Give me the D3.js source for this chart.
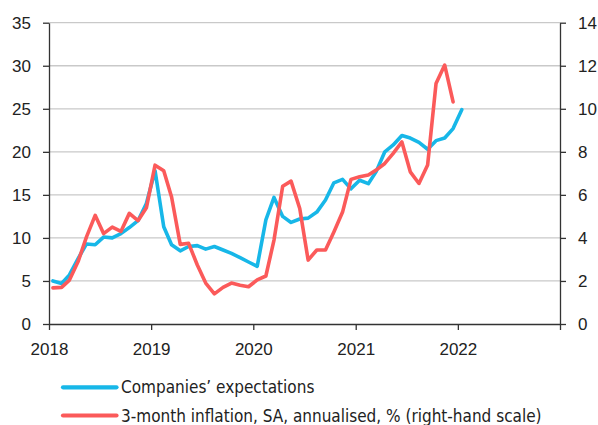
<!DOCTYPE html>
<html>
<head>
<meta charset="utf-8">
<script src="https://cdn.jsdelivr.net/npm/d3@7"></script>
<style>
  html, body { margin: 0; padding: 0; background: #fff; }
  svg { display: block; }
  text { font-family: "Liberation Sans", Arial, sans-serif; fill: #222; }
</style>
</head>
<body>
<svg id="chart" width="598" height="425"></svg>
<script>
// ---- Data (monthly, Jan 2018 onwards) ----
const startYear = 2018;
const startMonth = 0; // January
const companiesExpectations = [
  5.0, 4.7, 5.7, 7.6, 9.3, 9.2, 10.1, 10.0, 10.5, 11.2, 12.0, 14.0,
  17.8, 11.3, 9.2, 8.5, 9.0, 9.1, 8.7, 9.0, 8.6, 8.2, 7.7, 7.2,
  6.7, 12.1, 14.7, 12.5, 11.8, 12.2, 12.3, 13.0, 14.4, 16.4, 16.8, 15.7,
  16.7, 16.3, 17.7, 20.0, 20.8, 21.9, 21.6, 21.1, 20.3, 21.3, 21.6, 22.7,
  24.9
];
const inflation3m = [
  1.68, 1.7, 2.04, 2.9, 4.05, 5.05, 4.2, 4.5, 4.3, 5.14, 4.8, 5.4,
  7.38, 7.12, 5.9, 3.7, 3.75, 2.74, 1.9, 1.4, 1.7, 1.9, 1.8, 1.73,
  2.05, 2.23, 3.9, 6.4, 6.64, 5.37, 2.97, 3.44, 3.44, 4.28, 5.2, 6.72,
  6.84, 6.92, 7.15, 7.46, 7.93, 8.46, 7.07, 6.53, 7.39, 11.17, 12.03, 10.32
];
const xTickYears = [2018, 2019, 2020, 2021, 2022, 2023];
const xTickLabels = ["2018", "2019", "2020", "2021", "2022", ""];
const leftTicks = [0, 5, 10, 15, 20, 25, 30, 35];
const rightTicks = [0, 2, 4, 6, 8, 10, 12, 14];
const seriesNames = ["Companies\u2019 expectations", "3-month inflation, SA, annualised, % (right-hand scale)"];
const seriesColors = ["#17b7e8", "#fb5a5a"];

// ---- Layout ----
const svg = d3.select("#chart");
const pLeft = 49, pRight = 560, pTop = 22.7, pBottom = 324;

const x = d3.scaleTime()
  .domain([new Date(2018, 0, 1), new Date(2023, 0, 1)])
  .range([pLeft, pRight]);
const yL = d3.scaleLinear().domain([0, 35]).range([pBottom, pTop]);
const yR = d3.scaleLinear().domain([0, 14]).range([pBottom, pTop]);

const dateAt = i => new Date(startYear, startMonth + i, 15);

// gridlines
svg.append("g").selectAll("line")
  .data(leftTicks.filter(d => d > 0))
  .join("line")
  .attr("x1", pLeft).attr("x2", pRight)
  .attr("y1", d => yL(d)).attr("y2", d => yL(d))
  .attr("stroke", "#c9c9c9").attr("stroke-width", 1.3);

// axes
const axisColor = "#333";
const gL = svg.append("g").attr("transform", `translate(${pLeft},0)`)
  .call(d3.axisLeft(yL).tickValues(leftTicks).tickSize(6).tickPadding(12).tickSizeOuter(0));
const gR = svg.append("g").attr("transform", `translate(${pRight},0)`)
  .call(d3.axisRight(yR).tickValues(rightTicks).tickSize(6).tickPadding(12).tickSizeOuter(0));
const gX = svg.append("g").attr("transform", `translate(0,${pBottom})`)
  .call(d3.axisBottom(x).tickValues(xTickYears.map(y => new Date(y, 0, 1)))
    .tickFormat((d, i) => xTickLabels[i]).tickSize(6).tickPadding(10).tickSizeOuter(0));

[gL, gR, gX].forEach(g => {
  g.selectAll("path.domain").attr("stroke", axisColor).attr("stroke-width", 1.3);
  g.selectAll(".tick line").attr("stroke", axisColor).attr("stroke-width", 1.3);
  g.selectAll(".tick text").style("font-size", "17px").style("font-family", "'Liberation Sans', Arial, sans-serif").attr("fill", "#222");
});
gX.selectAll(".tick text").attr("dy", "0.9em");

// lines
const lineL = d3.line().x((d, i) => x(dateAt(i))).y(d => yL(d)).curve(d3.curveLinear);
const lineR = d3.line().x((d, i) => x(dateAt(i))).y(d => yR(d)).curve(d3.curveLinear);

svg.append("path").datum(companiesExpectations)
  .attr("d", lineL).attr("fill", "none")
  .attr("stroke", seriesColors[0]).attr("stroke-width", 3.6)
  .attr("stroke-linejoin", "round").attr("stroke-linecap", "round");
svg.append("path").datum(inflation3m)
  .attr("d", lineR).attr("fill", "none")
  .attr("stroke", seriesColors[1]).attr("stroke-width", 3.6)
  .attr("stroke-linejoin", "round").attr("stroke-linecap", "round");

// legend
const legend = svg.append("g");
const legY = [387.3, 415.5];
seriesNames.forEach((name, i) => {
  legend.append("line")
    .attr("x1", 63).attr("x2", 116.5)
    .attr("y1", legY[i]).attr("y2", legY[i])
    .attr("stroke", seriesColors[i]).attr("stroke-width", 4.2)
    .attr("stroke-linecap", "round");
  legend.append("text")
    .attr("x", 121).attr("y", legY[i] + 6)
    .style("font-size", "17px")
    .style("font-family", "'Liberation Sans Narrow', 'DejaVu Sans Condensed', sans-serif")
    .text(name);
});
</script>
</body>
</html>
